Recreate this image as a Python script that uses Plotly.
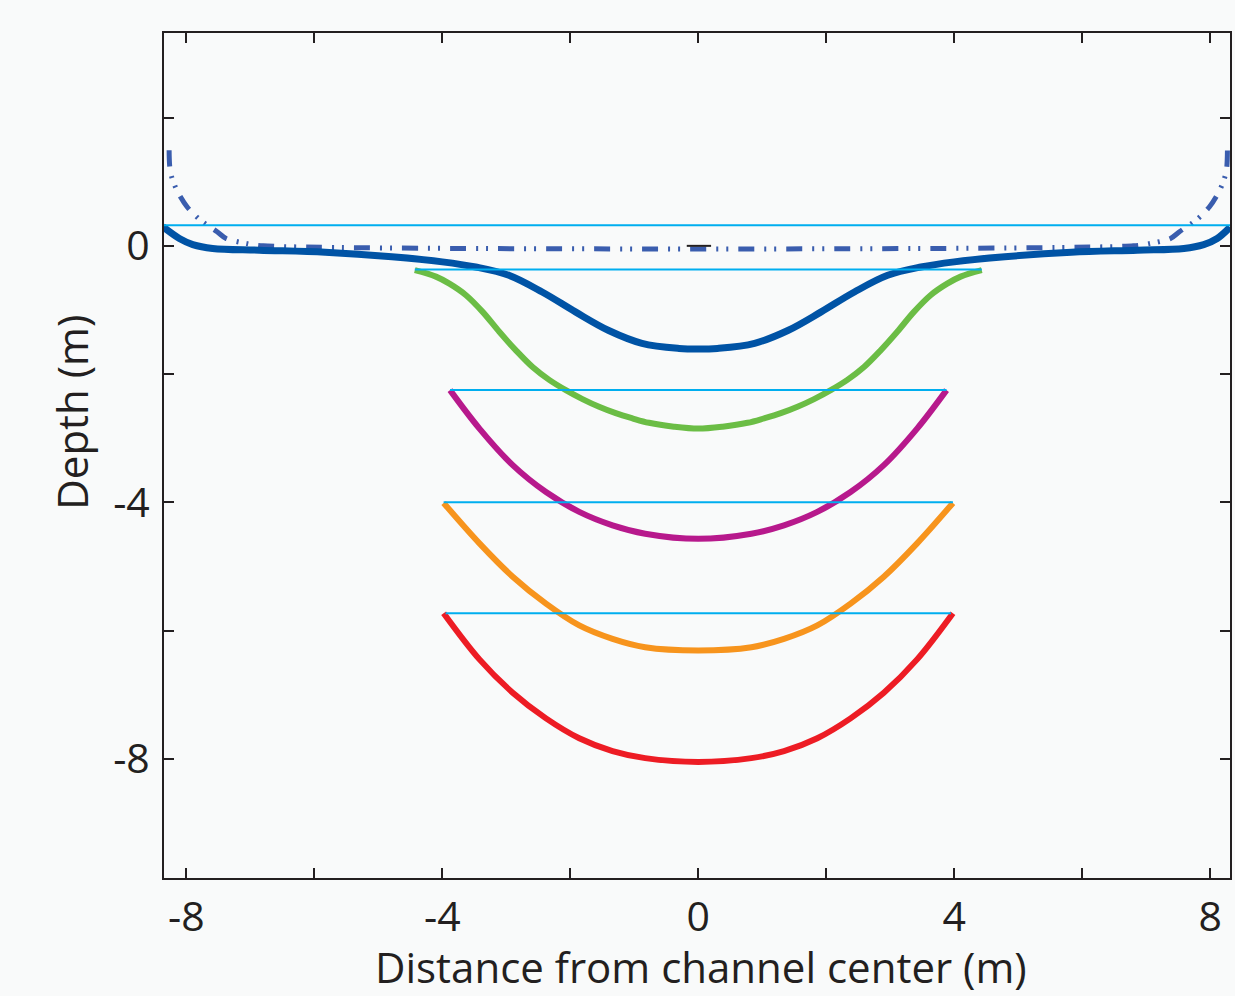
import plotly.graph_objects as go

# ---------------- data ----------------
# Bed profile (solid dark blue)
bed_x = [-8.37, -8.11, -7.90, -7.59, -6.86, -5.83, -4.79, -4.00, -3.48, -2.96, -2.44, -1.92, -1.40, -0.88, -0.30, 0.00,
         0.30, 0.88, 1.40, 1.92, 2.44, 2.96, 3.48, 4.00, 4.79, 5.83, 6.86, 7.59, 7.90, 8.11, 8.31]
bed_y = [0.30, 0.115, 0.02, -0.04, -0.067, -0.10, -0.17, -0.25, -0.33, -0.46, -0.72, -1.03, -1.32, -1.52, -1.60, -1.61,
         -1.60, -1.52, -1.32, -1.03, -0.72, -0.46, -0.33, -0.25, -0.17, -0.10, -0.067, -0.04, 0.02, 0.115, 0.29]

# Dash-dot-dot profile
dash_x = [-8.27, -8.25, -8.15, -7.99, -7.78, -7.52, -7.38, -7.08, -6.80, 6.80, 7.08, 7.38, 7.52, 7.78, 7.99, 8.15, 8.25, 8.27]
dash_y = [1.49, 1.15, 0.87, 0.61, 0.40, 0.22, 0.115, 0.04, 0.00, 0.00, 0.04, 0.115, 0.22, 0.40, 0.61, 0.87, 1.15, 1.49]

# Green profile
green_x = [-4.43, -4.10, -3.89, -3.63, -3.37, -3.11, -2.85, -2.59, -2.33, -2.07, -1.81, -1.55, -1.29, -1.03, -0.77, -0.38, 0.00,
           0.38, 0.77, 1.03, 1.29, 1.55, 1.81, 2.07, 2.33, 2.59, 2.85, 3.11, 3.37, 3.63, 3.89, 4.10, 4.43]
green_y = [-0.38, -0.48, -0.59, -0.77, -1.03, -1.34, -1.63, -1.89, -2.09, -2.25, -2.39, -2.51, -2.61, -2.69, -2.76, -2.82, -2.85,
           -2.82, -2.76, -2.69, -2.61, -2.51, -2.39, -2.25, -2.09, -1.89, -1.63, -1.34, -1.03, -0.77, -0.59, -0.48, -0.38]

# Magenta profile
magenta_x = [-3.88, -3.42, -2.90, -2.38, -1.86, -1.34, -0.83, 0.00, 0.83, 1.34, 1.86, 2.38, 2.90, 3.42, 3.88]
magenta_y = [-2.25, -2.85, -3.42, -3.84, -4.15, -4.36, -4.49, -4.57, -4.49, -4.36, -4.15, -3.84, -3.42, -2.85, -2.25]

# Orange profile
orange_x = [-3.98, -3.42, -2.90, -2.38, -1.86, -1.34, -0.83, 0.00, 0.83, 1.34, 1.86, 2.38, 2.90, 3.42, 3.98]
orange_y = [-4.01, -4.64, -5.16, -5.58, -5.92, -6.13, -6.26, -6.31, -6.26, -6.13, -5.92, -5.58, -5.16, -4.64, -4.01]

# Red profile
red_x = [-3.98, -3.42, -2.90, -2.38, -1.86, -1.34, -0.83, 0.00, 0.83, 1.34, 1.86, 2.38, 2.90, 3.42, 3.98]
red_y = [-5.73, -6.45, -6.97, -7.37, -7.68, -7.88, -7.99, -8.05, -7.99, -7.88, -7.68, -7.37, -6.97, -6.45, -5.73]

# Water levels (light blue horizontal lines): level, x-start, x-end
level_y = [0.32, -0.37, -2.25, -4.00, -5.73]
level_x0 = [-8.37, -4.43, -3.88, -3.98, -3.95]
level_x1 = [8.31, 4.43, 3.88, 3.98, 3.95]

# Small black mark at the center
mark_x = [-0.18, 0.20]
mark_y = [0.0, 0.0]

# Axes ticks
x_tickvals = [-8, -6, -4, -2, 0, 2, 4, 6, 8]
x_ticktext = ["-8", "", "-4", "", "0", "", "4", "", "8"]
y_tickvals = [2, 0, -2, -4, -6, -8]
y_ticktext = ["", "0", "", "-4", "", "-8"]

x_title = "Distance from channel center (m)"
y_title = "Depth (m)"

# ---------------- figure ----------------
FONT = "Open Sans"
INK = "#231f20"
SM = 1.0
fig = go.Figure()

fig.add_trace(go.Scatter(x=dash_x, y=dash_y, mode="lines", line=dict(color="#3a5dae", width=5,
                         dash="16px,10px,2px,8px,2px,10px", shape="spline", smoothing=0.8)))
fig.add_trace(go.Scatter(x=mark_x, y=mark_y, mode="lines", line=dict(color="#231f20", width=2)))
fig.add_trace(go.Scatter(x=bed_x, y=bed_y, mode="lines", line=dict(color="#0053a5", width=7, shape="spline", smoothing=1.0)))
fig.add_trace(go.Scatter(x=green_x, y=green_y, mode="lines", line=dict(color="#6bbd45", width=6, shape="spline", smoothing=SM)))
fig.add_trace(go.Scatter(x=magenta_x, y=magenta_y, mode="lines", line=dict(color="#b7198c", width=6, shape="spline", smoothing=SM)))
fig.add_trace(go.Scatter(x=orange_x, y=orange_y, mode="lines", line=dict(color="#f7941d", width=6, shape="spline", smoothing=SM)))
fig.add_trace(go.Scatter(x=red_x, y=red_y, mode="lines", line=dict(color="#ed1c24", width=6, shape="spline", smoothing=SM)))

for ly, lx0, lx1 in zip(level_y, level_x0, level_x1):
    fig.add_trace(go.Scatter(x=[lx0, lx1], y=[ly, ly], mode="lines", line=dict(color="#00aeef", width=2)))

axis_common = dict(showline=True, linewidth=2, linecolor=INK, mirror="ticks", ticks="inside",
                   ticklen=10, tickwidth=1.5, tickcolor=INK, showgrid=False, zeroline=False,
                   tickfont=dict(family=FONT, size=41, color=INK))

fig.update_layout(
    width=1235, height=996,
    margin=dict(l=164, r=3, t=33, b=118),
    paper_bgcolor="#f9fafa", plot_bgcolor="#f9fafa",
    showlegend=False,
    xaxis=dict(range=[-8.35, 8.31], tickvals=x_tickvals, ticktext=x_ticktext, ticklabelstandoff=2, **axis_common),
    yaxis=dict(range=[-9.86, 3.32], tickvals=y_tickvals, ticktext=y_ticktext, ticklabelstandoff=4, **axis_common),
    annotations=[
        dict(text=x_title, xref="paper", yref="paper", x=0.504, y=-0.105, showarrow=False,
             xanchor="center", yanchor="middle", font=dict(family=FONT, size=42, color=INK)),
        dict(text=y_title, xref="paper", yref="paper", x=-0.087, y=0.551, showarrow=False, textangle=-90,
             xanchor="center", yanchor="middle", font=dict(family=FONT, size=42, color=INK)),
    ],
)

fig.write_html("out.html", config={"displayModeBar": False},
               post_script="document.body.style.margin='0';document.body.style.overflow='hidden';")
